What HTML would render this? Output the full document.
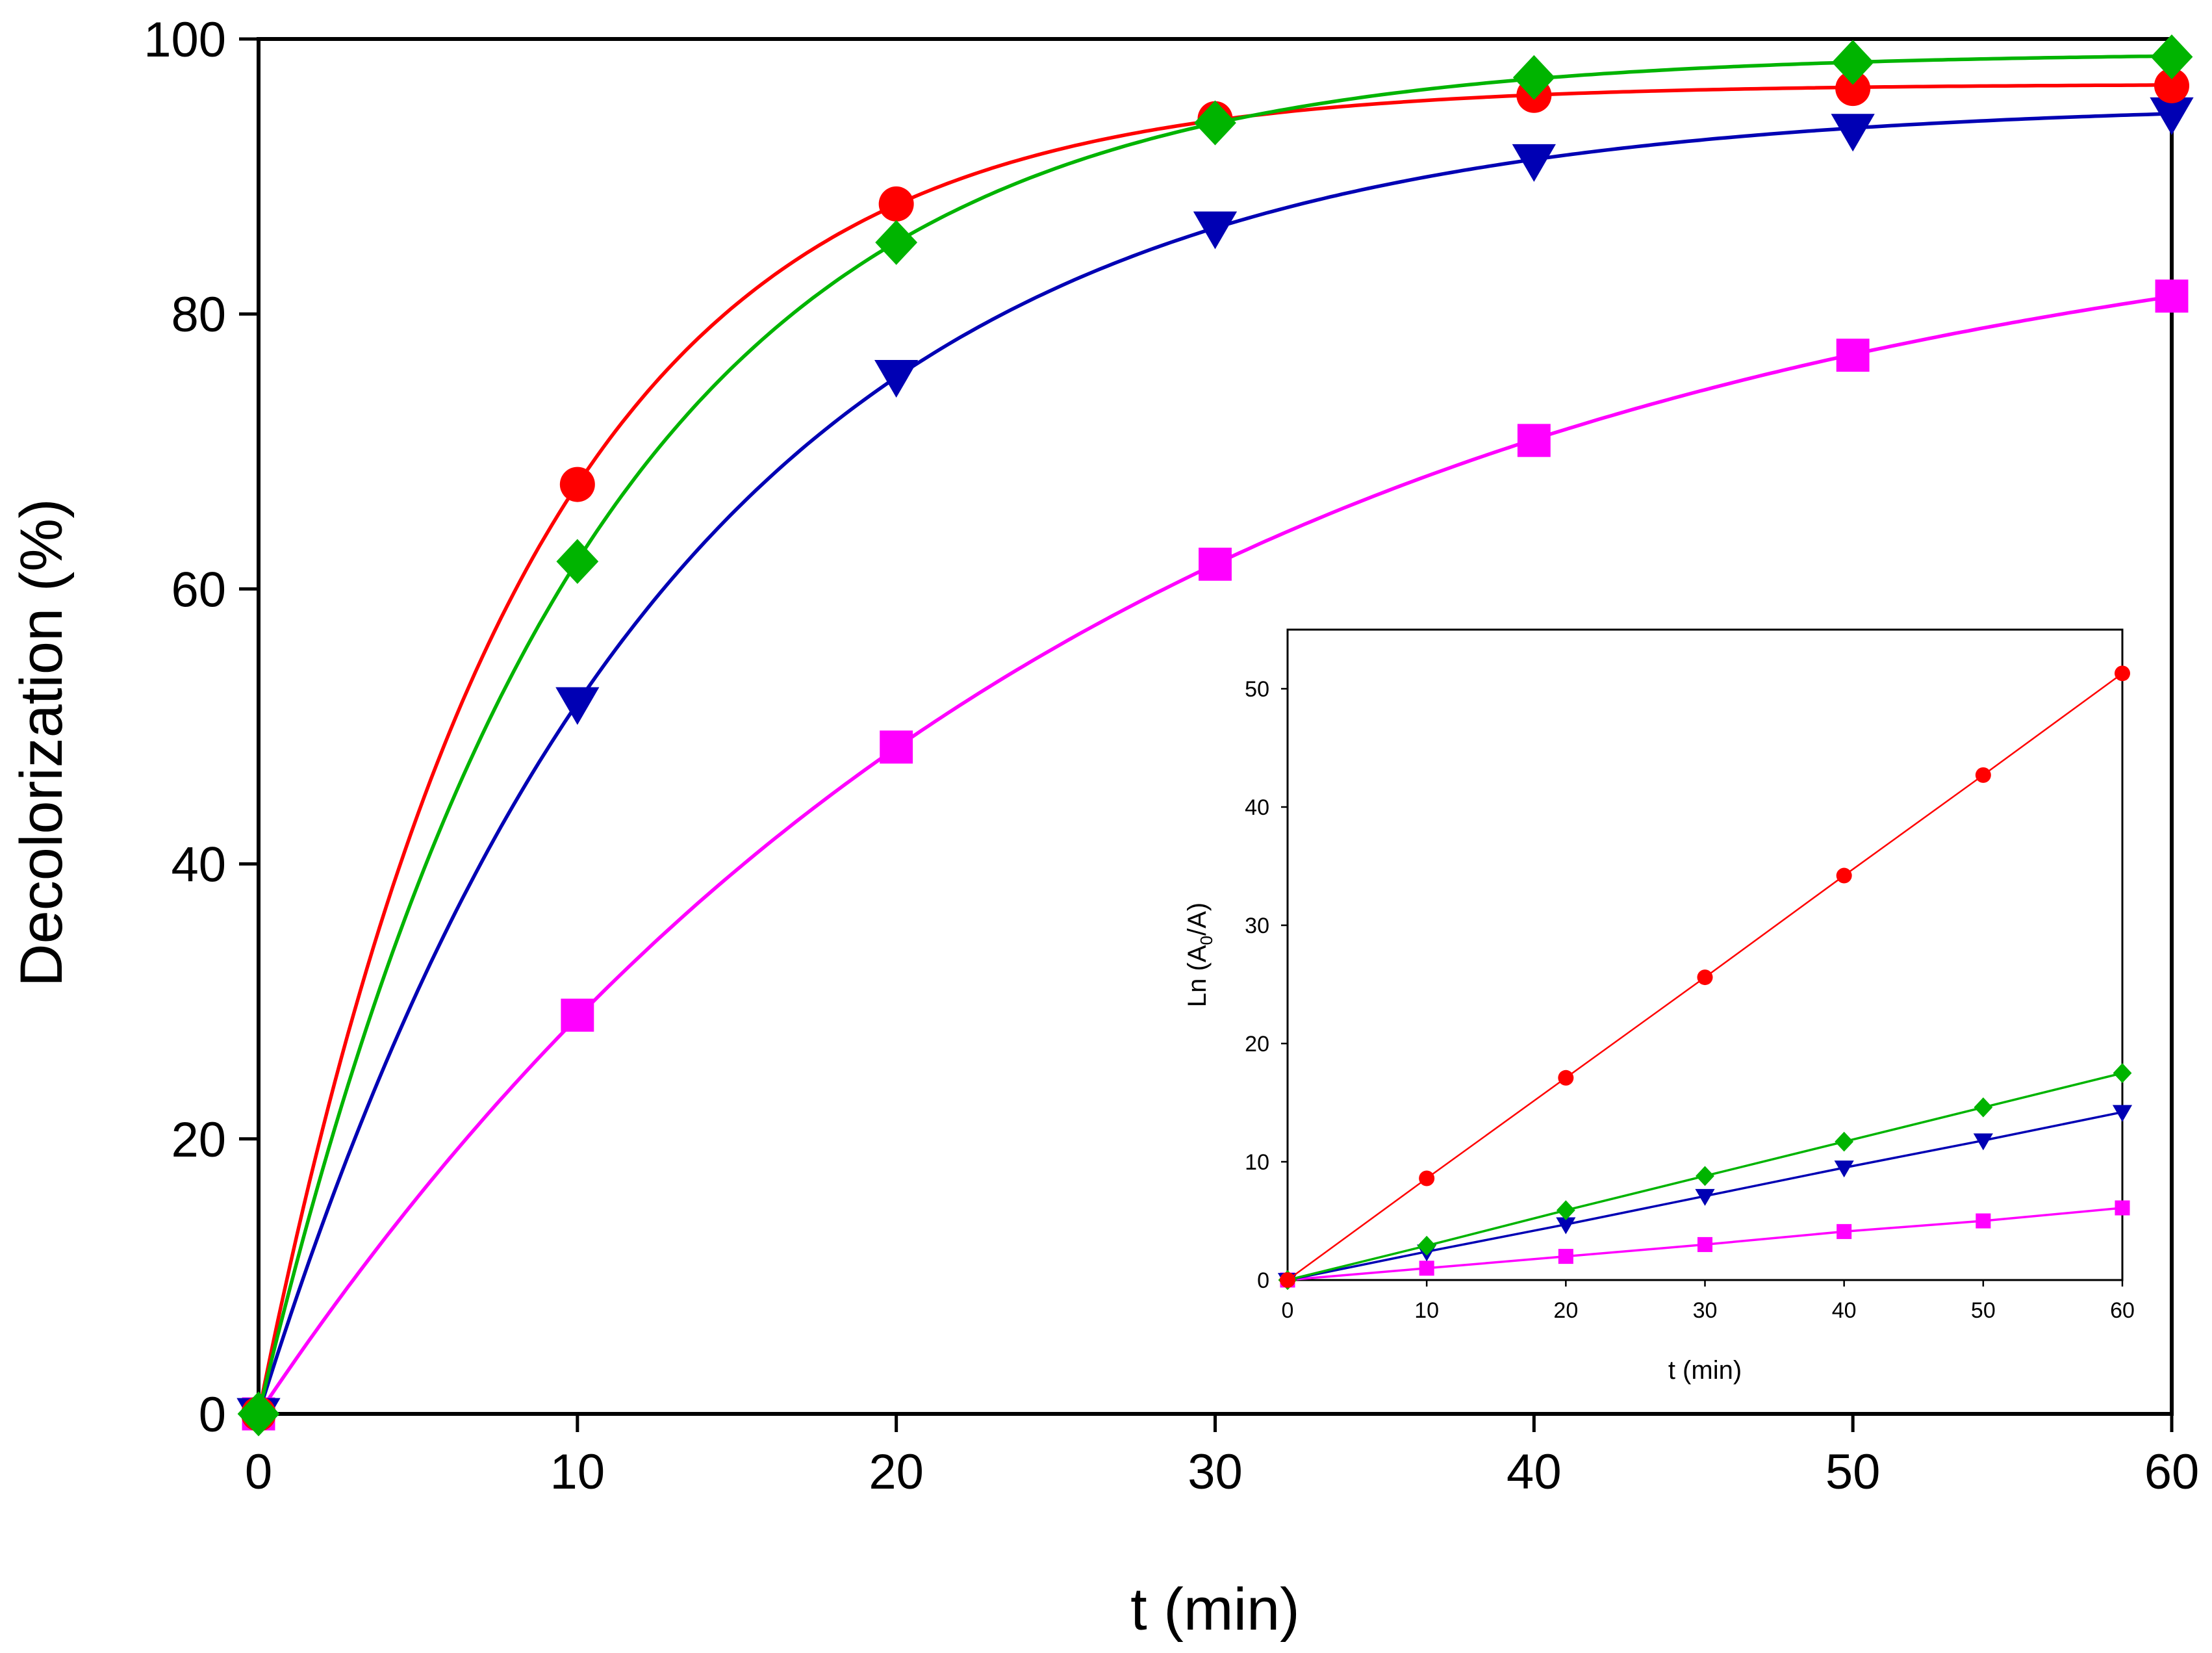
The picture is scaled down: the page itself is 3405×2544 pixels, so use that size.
<!DOCTYPE html>
<html><head><meta charset="utf-8"><style>
html,body{margin:0;padding:0;background:#fff}
svg{display:block}
text{font-family:"Liberation Sans",Arial,sans-serif;fill:#000}
</style></head><body>
<svg id="chart" width="3405" height="2544" viewBox="0 0 3405 2544" xmlns="http://www.w3.org/2000/svg"></svg>
<script>
const tVals = [0,10,20,30,40,50,60];
const redMain = [0,67.6,88.0,94.2,95.9,96.4,96.6];
const greenMain = [0,62.0,85.2,93.9,97.2,98.3,98.7];
const blueMain = [0,51.7,75.5,86.3,91.2,93.4,94.6];
const magentaMain = [0,29.0,48.5,61.8,70.8,77.0,81.3];
const mainXTicks = [0,10,20,30,40,50,60];
const mainYTicks = [0,20,40,60,80,100];
const redInset = [0,8.6,17.1,25.6,34.2,42.7,51.3];
const greenInset = [0,2.9,5.9,8.8,11.7,14.6,17.5];
const blueInset = [0,2.4,4.7,7.1,9.5,11.8,14.2];
const magentaInset = [0,1.0,2.0,3.0,4.1,5.0,6.1];
const insetXTicks = [0,10,20,30,40,50,60];
const insetYTicks = [0,10,20,30,40,50];

const NS="http://www.w3.org/2000/svg";
const svg=document.getElementById('chart');
function mk(tag,attrs,parent){const e=document.createElementNS(NS,tag);for(const k in attrs)e.setAttribute(k,attrs[k]);(parent||svg).appendChild(e);return e;}

const M={l:398,r:3343,t:60,b:2176};
const mx=v=>M.l+(v-0)/60*(M.r-M.l);
const my=v=>M.b-(v/100)*(M.b-M.t);
const I={l:1982,r:3267,t:969,b:1970};
const ix=v=>I.l+v/60*(I.r-I.l);
const iy=v=>I.b-(v/50)*(I.b-1060);

// first-order kinetic fit y = a(1-exp(-k t)) to the data (least squares over k grid)
function fitCurve(ts,ys){
  let best={a:0,k:0.01,err:Infinity};
  for(let k=0.005;k<0.5;k+=0.0005){
    let num=0,den=0;
    ts.forEach((t,i)=>{const f=1-Math.exp(-k*t);num+=f*ys[i];den+=f*f;});
    const a=num/den;let err=0;
    ts.forEach((t,i)=>{const d=ys[i]-a*(1-Math.exp(-k*t));err+=d*d;});
    if(err<best.err)best={a,k,err};
  }
  return best;
}
function curvePath(ts,ys){
  const f=fitCurve(ts,ys);
  const t0=ts[0],t1=ts[ts.length-1];
  let d='';
  for(let j=0;j<=300;j++){
    const t=t0+(t1-t0)*j/300;
    const y=f.a*(1-Math.exp(-f.k*t));
    d+=(j?'L':'M')+mx(t).toFixed(1)+','+my(y).toFixed(1);
  }
  return d;
}
function marker(g,shape,x,y,s,color){
  let e;
  if(shape==='circle') e=mk('circle',{cx:x,cy:y,r:s*0.5,fill:color},g);
  else if(shape==='square') e=mk('rect',{x:x-s*0.48,y:y-s*0.48,width:s*0.96,height:s*0.96,fill:color},g);
  else if(shape==='diamond') e=mk('polygon',{points:`${x},${y-s*0.64} ${x+s*0.6},${y} ${x},${y+s*0.64} ${x-s*0.6},${y}`,fill:color},g);
  else e=mk('polygon',{points:`${x-s*0.58},${y-s*0.42} ${x+s*0.58},${y-s*0.42} ${x},${y+s*0.58}`,fill:color},g);
  return e;
}

const frame=mk('rect',{x:M.l,y:M.t,width:M.r-M.l,height:M.b-M.t,fill:'none',stroke:'#000','stroke-width':6});


mainXTicks.forEach(v=>{
  const l=mk('line',{x1:mx(v),x2:mx(v),y1:M.b,y2:M.b+28,stroke:'#000','stroke-width':5});
  
  
  const t=mk('text',{x:mx(v),y:M.b+115,'font-size':76,'text-anchor':'middle'});
  t.textContent=v;
  
  
});
mainYTicks.forEach(v=>{
  const l=mk('line',{x1:M.l-30,x2:M.l,y1:my(v),y2:my(v),stroke:'#000','stroke-width':5});
  
  
  const t=mk('text',{x:M.l-50,y:my(v)+27,'font-size':76,'text-anchor':'end'});
  t.textContent=v;
  
  
});
const xt=mk('text',{x:(M.l+M.r)/2,y:2508,'font-size':92,'text-anchor':'middle'});
xt.textContent='t (min)';


const yt=mk('text',{x:0,y:0,'font-size':92,'text-anchor':'middle',transform:`translate(95,${(M.t+M.b)/2+25}) rotate(-90)`});
yt.textContent='Decolorization (%)';



const mainSeries=[
 {name:'magenta',vals:magentaMain,color:'#ff00ff',shape:'square',size:53},
 {name:'blue',vals:blueMain,color:'#0000b4',shape:'triangle',size:58},
 {name:'red',vals:redMain,color:'#ff0000',shape:'circle',size:54},
 {name:'green',vals:greenMain,color:'#00b400',shape:'diamond',size:54},
];
mainSeries.forEach(s=>{
  const g=mk('g',{});
  
  
  const p=mk('path',{d:curvePath(tVals,s.vals),fill:'none',stroke:s.color,'stroke-width':5.5},g);
  
  
  tVals.forEach((t,i)=>{
    const m=marker(g,s.shape,mx(t),my(s.vals[i]),s.size,s.color);
    
    
  });
});

const ibg=mk('rect',{x:I.l,y:I.t,width:I.r-I.l,height:I.b-I.t,fill:'#fff',stroke:'#000','stroke-width':3});


insetXTicks.forEach(v=>{
  const l=mk('line',{x1:ix(v),x2:ix(v),y1:I.b,y2:I.b+10,stroke:'#000','stroke-width':2.5});
  
  
  const t=mk('text',{x:ix(v),y:I.b+58,'font-size':34,'text-anchor':'middle'});
  t.textContent=v;
  
  
});
insetYTicks.forEach(v=>{
  const l=mk('line',{x1:I.l-10,x2:I.l,y1:iy(v),y2:iy(v),stroke:'#000','stroke-width':2.5});
  
  
  const t=mk('text',{x:I.l-28,y:iy(v)+12,'font-size':34,'text-anchor':'end'});
  t.textContent=v;
  
  
});
const ixt=mk('text',{x:(I.l+I.r)/2,y:2122,'font-size':40,'text-anchor':'middle'});
ixt.textContent='t (min)';


const iyt=mk('text',{x:0,y:0,'font-size':40,'text-anchor':'middle',transform:`translate(1856,${(I.t+I.b)/2}) rotate(-90)`});
iyt.innerHTML='Ln (A<tspan font-size="26" dy="10">0</tspan><tspan dy="-10">/A)</tspan>';



const insetSeries=[
 {name:'magenta',vals:magentaInset,color:'#ff00ff',shape:'square',size:24},
 {name:'blue',vals:blueInset,color:'#0000b4',shape:'triangle',size:26},
 {name:'green',vals:greenInset,color:'#00b400',shape:'diamond',size:24},
 {name:'red',vals:redInset,color:'#ff0000',shape:'circle',size:24},
];
insetSeries.forEach(s=>{
  const g=mk('g',{});
  
  
  const pts=tVals.map((t,i)=>ix(t)+','+iy(s.vals[i])).join(' ');
  const pl=mk('polyline',{points:pts,fill:'none',stroke:s.color,'stroke-width':s.name==='red'?2.5:3.5},g);
  
  
  tVals.forEach((t,i)=>{
    const m=marker(g,s.shape,ix(t),iy(s.vals[i]),s.size,s.color);
    
    
  });
});
</script>
</body></html>
